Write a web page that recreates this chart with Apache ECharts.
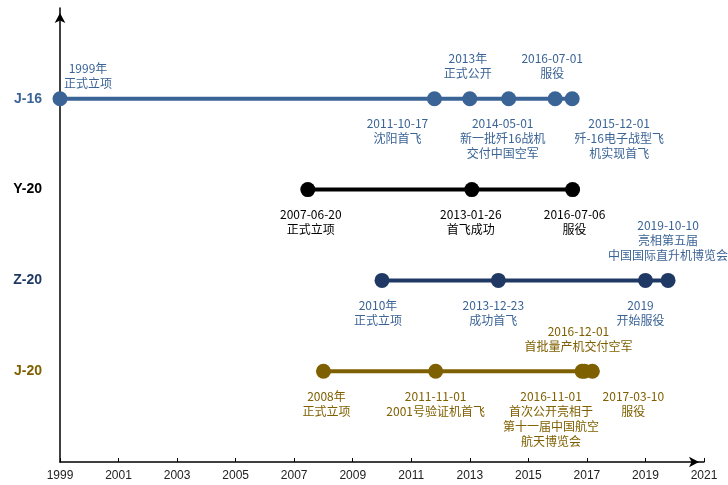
<!DOCTYPE html>
<html>
<head>
<meta charset="utf-8">
<script src="https://cdn.jsdelivr.net/npm/echarts@6/dist/echarts.min.js"></script>
<style>
  html, body { margin: 0; padding: 0; background: #fff; }
  #chart { width: 728px; height: 485px; }
</style>
</head>
<body>
<div id="chart"></div>
<script>
// rows from bottom to top
var aircraft = ['J-20', 'Z-20', 'Y-20', 'J-16'];

var j16Dates = ['1999', '2011-10-17', '2013', '2014-05-01', '2015-12-01', '2016-07-01'];
var j16Notes = ['1999年\n正式立项', '2011-10-17\n沈阳首飞', '2013年\n正式公开',
                '2014-05-01\n新一批歼16战机\n交付中国空军', '2015-12-01\n歼-16电子战型飞\n机实现首飞', '2016-07-01\n服役'];

var y20Dates = ['2007-06-20', '2013-01-26', '2016-07-06'];
var y20Notes = ['2007-06-20\n正式立项', '2013-01-26\n首飞成功', '2016-07-06\n服役'];

var z20Dates = ['2010', '2013-12-23', '2019', '2019-10-10'];
var z20Notes = ['2010年\n正式立项', '2013-12-23\n成功首飞', '2019\n开始服役', '2019-10-10\n亮相第五届\n中国国际直升机博览会'];

var j20Dates = ['2008', '2011-11-01', '2016-11-01', '2016-12-01', '2017-03-10'];
var j20Notes = ['2008年\n正式立项', '2011-11-01\n2001号验证机首飞', '2016-11-01\n首次公开亮相于\n第十一届中国航空\n航天博览会',
                '2016-12-01\n首批量产机交付空军', '2017-03-10\n服役'];

// label placement: [side, dx, dy]
var j16Place = [['top', 28, 10], ['bottom', -37, 0], ['top', -2, 0], ['bottom', -6, 0], ['bottom', 64, 0], ['top', -20, 0]];
var y20Place = [['bottom', 3, 0], ['bottom', -1, 0], ['bottom', 2, 0]];
var z20Place = [['bottom', -4, 0], ['bottom', -5, 0], ['bottom', -5, 0], ['top', 0, 0]];
var j20Place = [['bottom', 3, 0], ['bottom', 0, 0], ['bottom', -31, 0], ['top', -6, 0], ['bottom', 41, 0]];

function toYear(s) {
    var p = s.split('-');
    if (p.length === 1) return +p[0];
    var y = +p[0];
    var start = Date.UTC(y, 0, 1);
    var len = Date.UTC(y + 1, 0, 1) - start;
    return y + (Date.UTC(y, +p[1] - 1, +p[2]) - start) / len;
}

function makeSeries(name, row, dates, notes, place, color, textColor) {
    return {
        name: name,
        type: 'line',
        symbol: 'circle',
        symbolSize: 15,
        lineStyle: { color: color, width: 4 },
        itemStyle: { color: color },
        data: dates.map(function (d, i) {
            return {
                value: [toYear(d), row],
                label: {
                    show: true,
                    position: place[i][0],
                    offset: [place[i][1], place[i][2]],
                    distance: 10,
                    formatter: notes[i],
                    color: textColor,
                    fontSize: 12,
                    lineHeight: 15,
                    fontFamily: '"Noto Sans CJK SC", sans-serif',
                    align: 'center'
                }
            };
        })
    };
}

var chart = echarts.init(document.getElementById('chart'));
chart.setOption({
    animation: false,
    grid: { left: 60, right: 24, top: 8, bottom: 23 },
    xAxis: {
        type: 'value',
        min: 1999,
        max: 2021,
        interval: 2,
        splitLine: { show: false },
        axisLine: {
            show: true,
            symbol: ['none', 'arrow'],
            symbolSize: [8, 10],
            symbolOffset: [0, -5],
            lineStyle: { color: '#000', width: 1.5 }
        },
        axisTick: { show: true, inside: true, length: 4, lineStyle: { color: '#000' } },
        axisLabel: {
            color: '#222',
            fontSize: 12,
            margin: 8,
            fontFamily: 'Liberation Sans, sans-serif',
            formatter: function (v) { return String(v); }
        }
    },
    yAxis: {
        type: 'value',
        min: 0,
        max: 5,
        interval: 1,
        splitLine: { show: false },
        axisTick: { show: false },
        axisLine: {
            show: true,
            symbol: ['none', 'arrow'],
            symbolSize: [8, 10],
            symbolOffset: [0, -5],
            lineStyle: { color: '#000', width: 1.5 }
        },
        axisLabel: {
            margin: 18,
            formatter: function (v) {
                var name = aircraft[v - 1];
                return name ? '{r' + v + '|' + name + '}' : '';
            },
            rich: {
                r1: { color: '#7F6000', fontWeight: 'bold', fontSize: 14, fontFamily: 'Liberation Sans, sans-serif' },
                r2: { color: '#1F3864', fontWeight: 'bold', fontSize: 14, fontFamily: 'Liberation Sans, sans-serif' },
                r3: { color: '#000000', fontWeight: 'bold', fontSize: 14, fontFamily: 'Liberation Sans, sans-serif' },
                r4: { color: '#3B6496', fontWeight: 'bold', fontSize: 14, fontFamily: 'Liberation Sans, sans-serif' }
            }
        }
    },
    series: [
        makeSeries('J-16', 4, j16Dates, j16Notes, j16Place, '#3B6496', '#3B6496'),
        makeSeries('Y-20', 3, y20Dates, y20Notes, y20Place, '#000000', '#000000'),
        makeSeries('Z-20', 2, z20Dates, z20Notes, z20Place, '#1F3864', '#3B6496'),
        makeSeries('J-20', 1, j20Dates, j20Notes, j20Place, '#7F6000', '#7F6000')
    ]
});
</script>
</body>
</html>
